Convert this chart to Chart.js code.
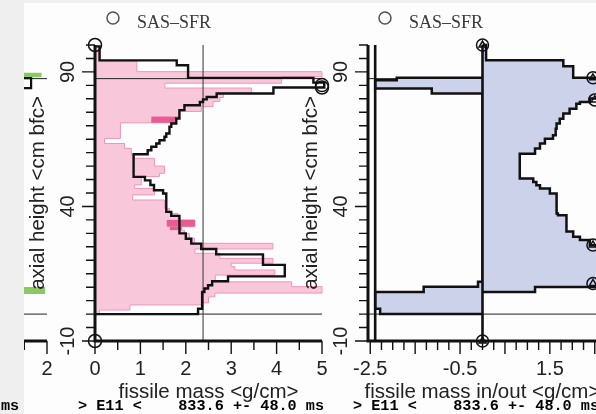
<!DOCTYPE html>
<html>
<head>
<meta charset="utf-8">
<title>SAS-SFR fissile mass</title>
<script src="https://cdn.jsdelivr.net/npm/chart.js@4/dist/chart.umd.min.js"></script>
<style>
  html, body { margin: 0; padding: 0; background: #fff; }
  #page { position: relative; width: 596px; height: 414px; overflow: hidden; background: #fdfdfd; }
  #page canvas { position: absolute; top: 0; }
  .strip { position: absolute; background: #efefef; }
</style>
</head>
<body>
<div id="page">
  <canvas id="prevchart" width="240" height="414" style="left:-180px"></canvas>
  <div class="strip" style="left:0;top:0;width:24px;height:414px"></div>
  <div class="strip" style="left:0;top:0;width:596px;height:3px"></div>
  <canvas id="masschart" width="596" height="414" style="left:0"></canvas>
  <canvas id="flowchart" width="700" height="414" style="left:0"></canvas>
</div>
<script>
// initial fissile mass per axial bin: bin edges <cm bfc>, mass <g/cm>
var pinkEdges = [0, 1.5, 3.4, 4.2, 6.4, 7.8, 10.2, 12, 14.5, 16.4, 17.6, 18.9, 20.7, 22.6, 24.2, 26.3,
    28.2, 30, 31.2, 32.5, 35, 37.4, 39.3, 42.4, 44.3, 46.7, 48, 51.1, 52.3, 55, 57.9, 59.1, 61.6, 63.4,
    65.3, 71.1, 73.4, 75.3, 77.1, 79, 80.5, 82, 84, 85.8, 88.2, 90.1, 94, 99.4];
var pinkMass = [0.1, 0.77, 2.38, 2.5, 2.64, 5.0, 4.33, 2.65, 3.96, 3.08, 3.0, 3.92, 2.75, 2.2, 3.92,
    2.19, 2.08, 1.97, 1.91, 2.2, 1.83, 1.64, 1.53, 0.83, 1.31, 0.87, 1.02, 1.42, 1.53, 1.31, 0.87, 0.80,
    0.65, 0.21, 0.56, 1.79, 1.85, 2.34, 2.6, 2.75, 2.83, 3.45, 1.54, 4.11, 5.0, 0.92, 0.12];
// highlighted cells: [bottom, top, from, to]
var darkCells = [[71.1, 73.4, 1.24, 1.79], [32.5, 35, 1.58, 2.2], [31.2, 32.5, 1.65, 1.91]];

// SAS-SFR fissile mass at E11
var simEdges = [0, 2, 8.2, 9.5, 10.7, 12.2, 14, 18.3, 22.2, 24.2, 26.2, 28, 30, 36.5, 38, 44.8, 46,
    48, 49.7, 51, 59.4, 60.9, 62.2, 63.4, 64.6, 65.9, 67.1, 69.6, 70.8, 72.7, 75.8, 77.6, 78.8, 79.8,
    80.7, 82, 84.2, 86, 87.8, 92.5, 94.3, 99.5];
var simMass = [2.27, 2.36, 2.41, 2.49, 2.58, 2.93, 4.18, 3.70, 2.67, 2.34, 2.12, 2.0, 1.86, 1.68, 1.57,
    1.50, 1.30, 1.22, 1.10, 0.85, 1.16, 1.24, 1.35, 1.42, 1.53, 1.57, 1.64, 1.68, 1.79, 1.86, 1.97, 2.31,
    2.38, 2.46, 2.68, 3.93, 5.05, 4.81, 2.05, 1.80, 0.10];
var meanMass = 2.38;
var coreLines = [0, 87.5];
var massMarkX = [0, 0, 5, 5];
var massMarkY = [100, -10, 85.1, 84.2];

// mass moved in / out of each bin
var inEdges = [8.2, 10.1, 12.2, 14, 18.3, 22.2, 25.6, 27.5, 28.7, 30.7, 36.7, 37.4, 44.8, 46.7, 47.9,
    49.1, 50.4, 59.6, 61.5, 63.4, 65.2, 66.5, 68.9, 70.8, 72.6, 74.5, 76.3, 78.2, 78.8, 80.1, 82, 84.2,
    87.8, 92.1, 94.3, 100];
var inMass = [1.17, 2.58, 2.93, 4.18, 3.70, 2.67, 2.39, 2.17, 2.02, 1.87, 1.68, 1.65, 1.50, 1.28, 1.20,
    1.13, 0.83, 1.17, 1.28, 1.39, 1.57, 1.63, 1.65, 1.72, 1.80, 1.94, 2.09, 2.17, 2.39, 2.68, 3.93, 4.80,
    2.02, 1.80, 0.08];
var outEdges = [0, 2, 8.2, 10.2, 12, 82, 83.8, 86.9, 87.8];
var outMass = [-2.28, -2.39, -1.31, -0.1, 0, -1.13, -2.39, -1.91];
var outLimit = -2.39;
var flowMarkX = [0, 0, 2.46, 2.5, 2.46, 2.46];
var flowMarkY = [100, -10, 87.8, 79.6, 25.7, 11.4];

// neighbouring panel (only its right edge is on the page)
var prevEdges = [7.5, 10.1, 88, 89.7];
var prevMass = [1.96, 0, 1.88];
var prevSimEdges = [84, 87.7];
var prevSimMass = [1.65];

var massLabels = [0, 1, 2, 3, 4, 5];
var flowLabels = [-2.5, -0.5, 1.5];
var prevLabels = [2];
var heightLabels = [-10, 40, 90];
var timingText = '> E11 <    833.6 +- 48.0 ms';

function range(from, to, step) {
    var out = [];
    for (var k = 0; from + k * step <= to + 1e-9; k++) out.push(from + k * step);
    return out;
}
var heightTicks = range(-10, 100, 5);

// vertical step profile, closed back to x = 0 at both ends
function stepProfile(edges, vals) {
    var pts = [{x: 0, y: edges[0]}];
    for (var i = 0; i < vals.length; i++) pts.push({x: vals[i], y: edges[i]});
    pts.push({x: vals[vals.length - 1], y: edges[edges.length - 1]});
    pts.push({x: 0, y: edges[edges.length - 1]});
    return pts;
}
function cellShape(c) {
    return [{x: c[2], y: c[0]}, {x: c[3], y: c[0]}, {x: c[3], y: c[1]}, {x: c[2], y: c[1]}];
}
function seg(x0, y0, x1, y1) {
    return [{x: x0, y: y0}, {x: x1, y: y1}];
}

function lineSet(data, color, width, extra) {
    return Object.assign({
        data: data, showLine: true, stepped: 'after', fill: false,
        borderColor: color, borderWidth: width, pointRadius: 0, pointHoverRadius: 0, clip: 6
    }, extra || {});
}
function areaSet(data, fillColor, color, width) {
    return lineSet(data, color, width, {fill: 'shape', backgroundColor: fillColor});
}
function markSet(xs, ys, style, radius) {
    return {
        data: xs.map(function (x, i) { return {x: x, y: ys[i]}; }),
        showLine: false, pointStyle: style, pointRadius: radius, pointHoverRadius: radius,
        pointBorderColor: '#111', pointBackgroundColor: 'rgba(0,0,0,0)', pointBorderWidth: 1.5, clip: false
    };
}

function baseOptions(pad, xmin, xmax) {
    return {
        responsive: false, animation: false, devicePixelRatio: 1, events: [],
        layout: {padding: pad},
        scales: {
            x: {type: 'linear', display: false, min: xmin, max: xmax},
            y: {type: 'linear', display: false, min: -10, max: 100}
        },
        plugins: {legend: {display: false}, tooltip: {enabled: false}}
    };
}

// axes, ticks, titles and legend drawn on top of the datasets
function frame(cfg) {
    return {
        id: 'frame',
        afterDatasetsDraw: function (chart) {
            var ctx = chart.ctx, a = chart.chartArea, sx = chart.scales.x, sy = chart.scales.y;
            ctx.save();
            ctx.strokeStyle = '#111';
            ctx.fillStyle = '#222';
            ctx.lineWidth = 3;
            ctx.beginPath();
            if (cfg.heightAxis) {
                ctx.moveTo(a.left, a.top);
                ctx.lineTo(a.left, a.bottom);
            }
            ctx.moveTo(a.left - 1.5, a.bottom);
            ctx.lineTo(a.right, a.bottom);
            ctx.stroke();

            ctx.lineWidth = 1.4;
            ctx.beginPath();
            cfg.xTicks.forEach(function (v) {
                var px = sx.getPixelForValue(v);
                var len = cfg.xMajor.indexOf(v) >= 0 ? 13 : 9;
                ctx.moveTo(px, a.bottom);
                ctx.lineTo(px, a.bottom + len);
            });
            if (cfg.heightAxis) {
                heightTicks.forEach(function (h) {
                    var py = sy.getPixelForValue(h);
                    var len = heightLabels.indexOf(h) >= 0 ? 13 : 9;
                    ctx.moveTo(a.left, py);
                    ctx.lineTo(a.left - len, py);
                });
            }
            ctx.stroke();

            ctx.font = '20px "Liberation Sans", Arial, sans-serif';
            ctx.textAlign = 'center';
            ctx.textBaseline = 'middle';
            cfg.xLabels.forEach(function (v) {
                ctx.fillText(String(v), sx.getPixelForValue(v), a.bottom + 28);
            });
            if (cfg.heightAxis) {
                heightLabels.forEach(function (h) {
                    ctx.save();
                    ctx.translate(a.left - 27, sy.getPixelForValue(h));
                    ctx.rotate(-Math.PI / 2);
                    ctx.fillText(String(h), 0, 0);
                    ctx.restore();
                });
                ctx.font = '20.5px "Liberation Sans", Arial, sans-serif';
                ctx.textBaseline = 'alphabetic';
                ctx.save();
                ctx.translate(a.left - 51, (a.top + a.bottom) / 2);
                ctx.rotate(-Math.PI / 2);
                ctx.fillText('axial height <cm bfc>', 0, 0);
                ctx.restore();
            }
            if (cfg.xTitle) {
                ctx.font = '20.5px "Liberation Sans", Arial, sans-serif';
                ctx.textBaseline = 'alphabetic';
                ctx.fillText(cfg.xTitle, (a.left + a.right) / 2, 398);
            }
            if (cfg.legend) {
                ctx.strokeStyle = '#555';
                ctx.lineWidth = 1.5;
                ctx.beginPath();
                ctx.arc(cfg.legend.x, cfg.legend.y, 6, 0, Math.PI * 2);
                ctx.stroke();
                ctx.fillStyle = '#3a3a3a';
                ctx.font = '18px "Liberation Serif", "Times New Roman", serif';
                ctx.textAlign = 'left';
                ctx.textBaseline = 'alphabetic';
                ctx.fillText('SAS\u2013SFR', cfg.legend.x + 24, cfg.legend.y + 10);
            }
            ctx.restore();
        }
    };
}

var footer = {
    id: 'footer',
    afterDraw: function (chart) {
        var ctx = chart.ctx;
        ctx.save();
        ctx.fillStyle = '#000';
        ctx.font = 'bold 15.2px "Liberation Mono", "Courier New", monospace';
        ctx.textAlign = 'left';
        ctx.textBaseline = 'alphabetic';
        ctx.fillText('ms', 1, 410);
        ctx.fillText(timingText, 78, 410);
        ctx.fillText(timingText, 353, 410);
        ctx.restore();
    }
};

var pink = 'rgb(248,199,218)';
var pinkLine = 'rgb(240,150,186)';
var blue = 'rgb(204,210,234)';

// left-hand neighbour, cut off by the page edge
new Chart(document.getElementById('prevchart'), {
    type: 'scatter',
    data: {
        datasets: [
            lineSet(stepProfile(prevSimEdges, prevSimMass), '#111', 2.2),
            lineSet(seg(-3, coreLines[0], 2, coreLines[0]), '#222', 1),
            lineSet(seg(-3, coreLines[1], 2, coreLines[1]), '#222', 1),
            areaSet(stepProfile(prevEdges, prevMass), 'rgb(140,200,100)', 'rgba(0,0,0,0)', 0)
        ]
    },
    options: baseOptions({left: 0, right: 13, top: 45, bottom: 73}, -3, 2),
    plugins: [frame({heightAxis: false, xTicks: range(-3, 2, 0.5), xMajor: prevLabels, xLabels: prevLabels})]
});

// fissile mass
new Chart(document.getElementById('masschart'), {
    type: 'scatter',
    data: {
        datasets: [
            markSet(massMarkX, massMarkY, 'circle', 6.5),
            lineSet(stepProfile(simEdges, simMass), '#111', 2.4),
            lineSet(seg(meanMass, -10, meanMass, 100), '#444', 1.1),
            lineSet(seg(0, coreLines[0], 5, coreLines[0]), '#222', 1),
            lineSet(seg(0, coreLines[1], 5, coreLines[1]), '#222', 1)
        ].concat(darkCells.map(function (c) {
            return areaSet(cellShape(c), 'rgb(233,92,146)', 'rgba(0,0,0,0)', 0);
        })).concat([
            areaSet(stepProfile(pinkEdges, pinkMass), pink, pinkLine, 1)
        ])
    },
    options: baseOptions({left: 95, right: 274, top: 45, bottom: 73}, 0, 5),
    plugins: [frame({
        heightAxis: true, xTicks: range(0, 5, 0.5), xMajor: massLabels, xLabels: massLabels,
        xTitle: 'fissile mass <g/cm>', legend: {x: 113, y: 18}
    })]
});

// fissile mass moved in / out
new Chart(document.getElementById('flowchart'), {
    type: 'scatter',
    data: {
        datasets: [
            markSet(flowMarkX, flowMarkY, 'triangle', 4),
            markSet(flowMarkX, flowMarkY, 'circle', 6),
            lineSet(seg(0, -10, 0, 100), '#111', 2.6),
            lineSet(seg(outLimit, -10, outLimit, 100), '#111', 2.6),
            areaSet(stepProfile(inEdges, inMass), blue, '#111', 2.5),
            areaSet(stepProfile(outEdges, outMass), blue, '#111', 2.5),
            lineSet(seg(-2.55, coreLines[0], 2.55, coreLines[0]), '#222', 1),
            lineSet(seg(-2.55, coreLines[1], 2.55, coreLines[1]), '#222', 1)
        ]
    },
    options: baseOptions({left: 368, right: 103, top: 45, bottom: 73}, -2.55, 2.55),
    plugins: [frame({
        heightAxis: true, xTicks: range(-2.5, 2.5, 0.25), xMajor: range(-2.5, 2.5, 1), xLabels: flowLabels,
        xTitle: 'fissile mass in/out <g/cm>', legend: {x: 385, y: 18}
    }), footer]
});
</script>
</body>
</html>
